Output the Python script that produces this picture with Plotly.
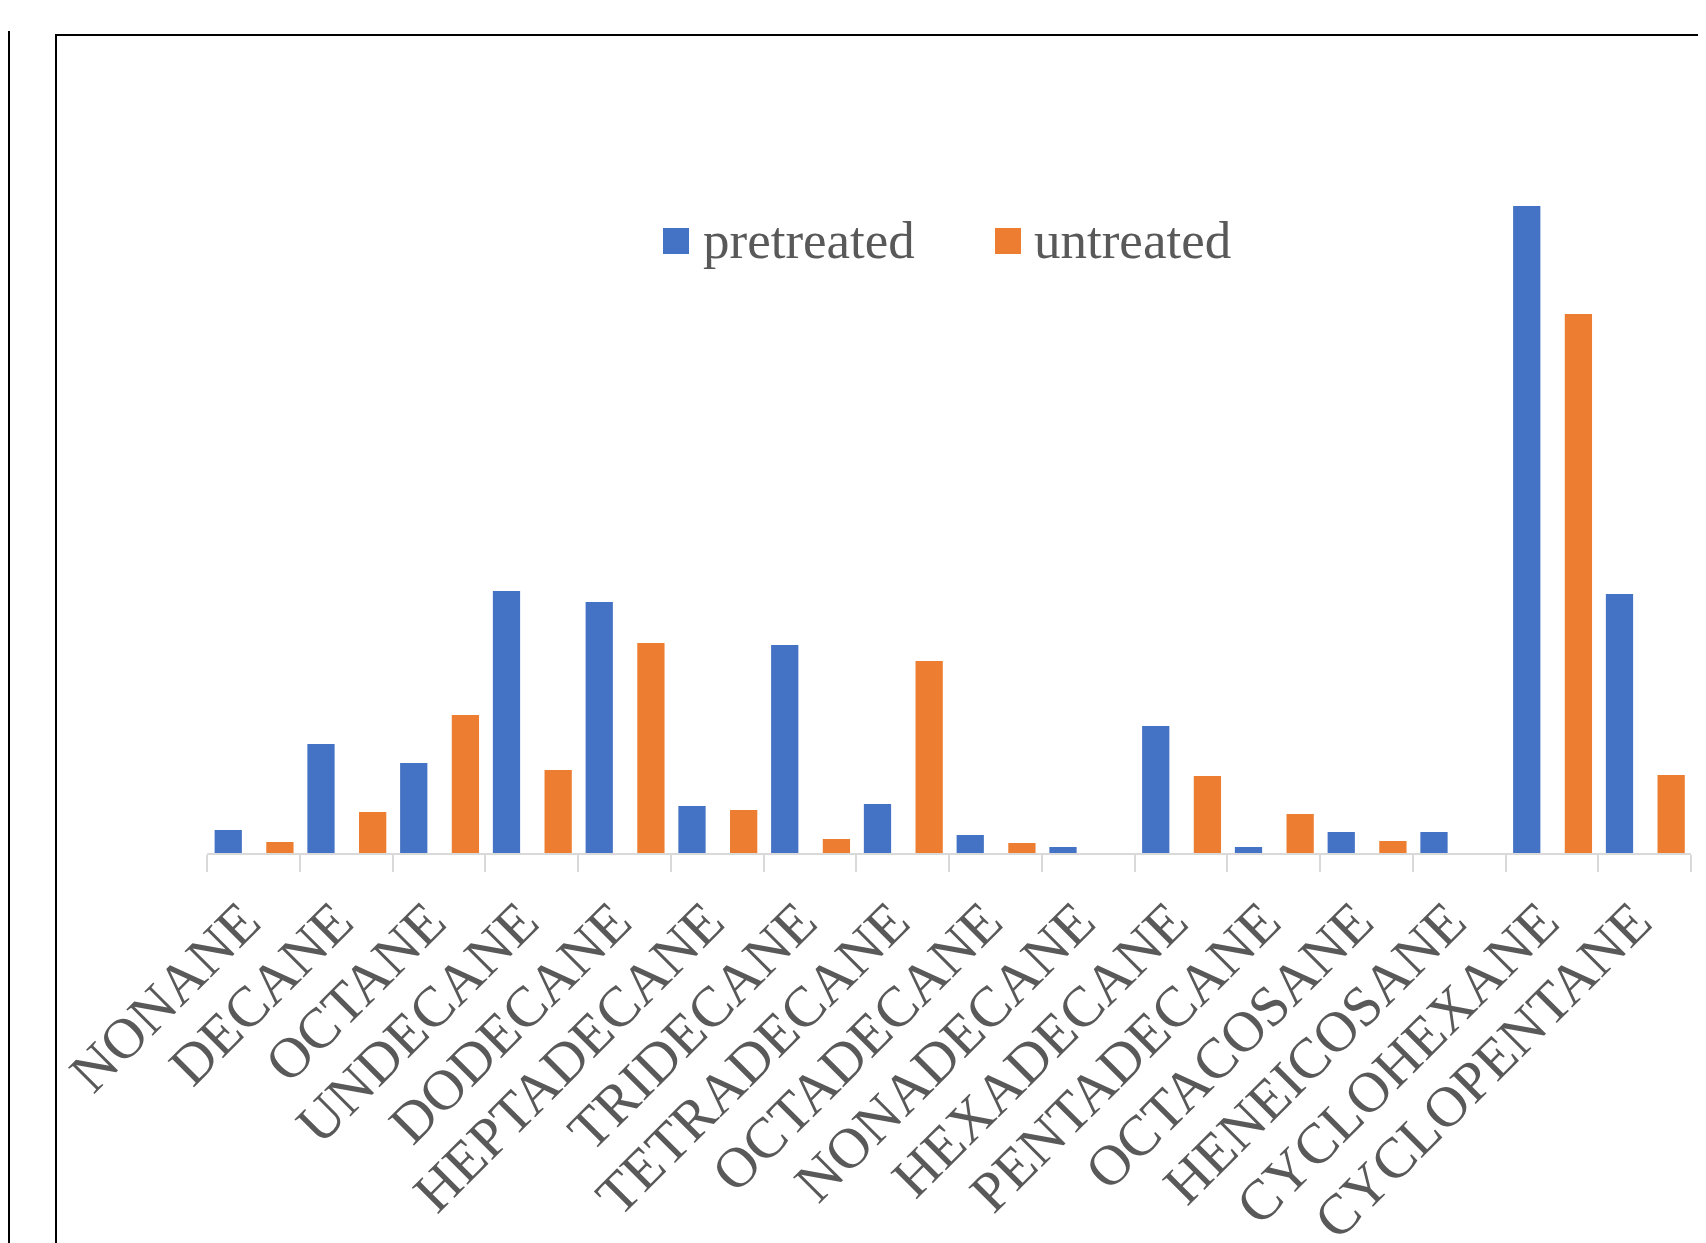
import plotly.graph_objects as go

categories = ["NONANE", "DECANE", "OCTANE", "UNDECANE", "DODECANE", "HEPTADECANE",
              "TRIDECANE", "TETRADECANE", "OCTADECANE", "NONADECANE", "HEXADECANE",
              "PENTADECANE", "OCTACOSANE", "HENEICOSANE", "CYCLOHEXANE", "CYCLOPENTANE"]
pretreated = [2.3, 10.9, 9.0, 26.2, 25.1, 4.7, 20.8, 4.9, 1.8, 0.6, 12.7, 0.6, 2.1, 2.1, 64.7, 25.9]
untreated = [1.1, 4.1, 13.8, 8.3, 21.0, 4.3, 1.4, 19.2, 1.0, 0.0, 7.7, 3.9, 1.2, 0.0, 53.9, 7.8]
series_names = ["pretreated", "untreated"]

BLUE = "#4472C4"
ORANGE = "#ED7D31"
TEXT = "#595959"
AXIS = "#D9D9D9"
FONT = "Liberation Serif, Times New Roman, serif"

OFF = 8  # default page body margin; positions below are page pixels
W, H = 1706, 1243
ML = 207 - OFF
MR = W - (1691 - OFF)
MT = 150 - OFF
BASE = 853 - OFF
MB = H - BASE
PW = W - ML - MR
PH = H - MT - MB


def px_x(px):
    return (px - OFF - ML) / PW


def px_y(py):
    return (BASE - (py - OFF)) / PH


fig = go.Figure()
fig.add_trace(go.Bar(x=categories, y=pretreated, name=series_names[0],
                     marker=dict(color=BLUE, line=dict(width=0)),
                     offset=-0.418, width=0.294, showlegend=False))
fig.add_trace(go.Bar(x=categories, y=untreated, name=series_names[1],
                     marker=dict(color=ORANGE, line=dict(width=0)),
                     offset=0.139, width=0.294, showlegend=False))

shapes = [
    # main chart frame (cropped)
    dict(type="path", xref="paper", yref="paper",
         path=f"M {px_x(56)} {px_y(1300)} L {px_x(56)} {px_y(35)} L {px_x(1800)} {px_y(35)}",
         line=dict(color="black", width=2)),
    # neighbouring frame on the left (cropped)
    dict(type="path", xref="paper", yref="paper",
         path=f"M {px_x(-20)} {px_y(32)} L {px_x(9)} {px_y(32)} L {px_x(9)} {px_y(1300)}",
         line=dict(color="black", width=2)),
    # legend swatches
    dict(type="rect", xref="paper", yref="paper",
         x0=px_x(663), x1=px_x(689), y0=px_y(228), y1=px_y(254),
         fillcolor=BLUE, line=dict(width=0)),
    dict(type="rect", xref="paper", yref="paper",
         x0=px_x(995), x1=px_x(1021), y0=px_y(228), y1=px_y(254),
         fillcolor=ORANGE, line=dict(width=0)),
]

annotations = [
    dict(x=px_x(701), y=px_y(240), xref="paper", yref="paper", text=series_names[0],
         showarrow=False, xanchor="left", yanchor="middle",
         font=dict(family=FONT, size=53, color=TEXT)),
    dict(x=px_x(1032), y=px_y(240), xref="paper", yref="paper", text=series_names[1],
         showarrow=False, xanchor="left", yanchor="middle",
         font=dict(family=FONT, size=53, color=TEXT)),
]

fig.update_layout(
    width=W, height=H,
    autosize=False,
    margin=dict(l=ML, r=MR, t=MT, b=MB, pad=0, autoexpand=False),
    paper_bgcolor="white", plot_bgcolor="white",
    barmode="overlay",
    showlegend=False,
    shapes=shapes,
    annotations=annotations,
    xaxis=dict(
        type="category",
        automargin=False,
        range=[-0.5, len(categories) - 0.5],
        tickmode="array",
        tickvals=categories,
        ticktext=[c + "\u00a0" for c in categories],
        tickson="boundaries",
        ticks="outside", ticklen=17, tickwidth=2, tickcolor=AXIS,
        showline=True, linecolor=AXIS, linewidth=2,
        showgrid=False, zeroline=False,
        tickangle=-45,
        ticklabelstandoff=0,
        tickfont=dict(family=FONT, size=57, color=TEXT),
    ),
    yaxis=dict(
        automargin=False,
        range=[0, PH / 10.0],
        visible=False, showgrid=False, zeroline=False,
    ),
)

fig.write_html("out.html", config={"displayModeBar": False})
